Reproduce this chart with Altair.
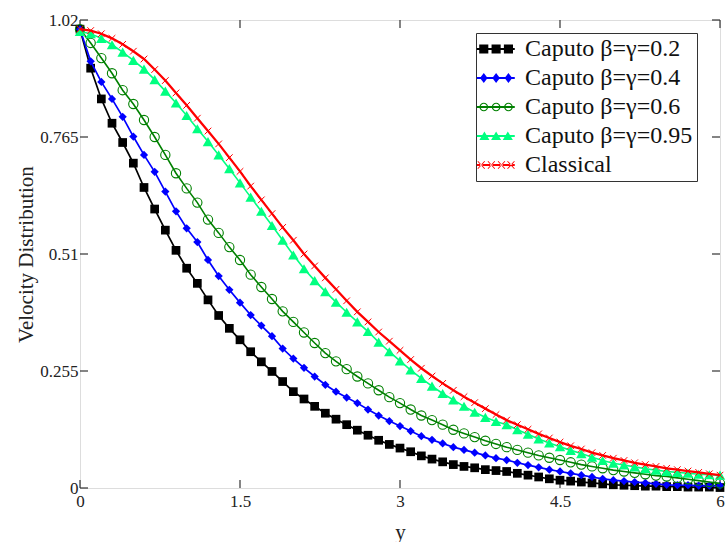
import math
import altair as alt
import pandas as pd

# ---------------- data ----------------
x_vals = [0.0, 0.1, 0.2, 0.3, 0.4, 0.5, 0.6, 0.7, 0.8, 0.9,
          1.0, 1.1, 1.2, 1.3, 1.4, 1.5, 1.6, 1.7, 1.8, 1.9,
          2.0, 2.1, 2.2, 2.3, 2.4, 2.5, 2.6, 2.7, 2.8, 2.9,
          3.0, 3.1, 3.2, 3.3, 3.4, 3.5, 3.6, 3.7, 3.8, 3.9,
          4.0, 4.1, 4.2, 4.3, 4.4, 4.5, 4.6, 4.7, 4.8, 4.9,
          5.0, 5.1, 5.2, 5.3, 5.4, 5.5, 5.6, 5.7, 5.8, 5.9, 6.0]

caputo_02 = [1.000, 0.915, 0.848, 0.795, 0.753, 0.708, 0.655, 0.608, 0.562, 0.518,
             0.479, 0.446, 0.410, 0.376, 0.348, 0.323, 0.297, 0.275, 0.254, 0.232,
             0.210, 0.194, 0.178, 0.163, 0.150, 0.138, 0.126, 0.115, 0.104, 0.095,
             0.087, 0.079, 0.070, 0.063, 0.057, 0.051, 0.047, 0.044, 0.040, 0.038,
             0.036, 0.032, 0.028, 0.024, 0.020, 0.017, 0.015, 0.013, 0.011, 0.009,
             0.007, 0.006, 0.005, 0.004, 0.004, 0.003, 0.003, 0.002, 0.002, 0.002, 0.001]

caputo_04 = [1.000, 0.930, 0.885, 0.848, 0.809, 0.766, 0.726, 0.689, 0.646, 0.603,
             0.566, 0.536, 0.497, 0.462, 0.432, 0.404, 0.377, 0.354, 0.331, 0.304,
             0.282, 0.262, 0.243, 0.225, 0.210, 0.197, 0.185, 0.171, 0.158, 0.146,
             0.135, 0.124, 0.113, 0.105, 0.097, 0.089, 0.083, 0.077, 0.071, 0.065,
             0.061, 0.055, 0.050, 0.045, 0.040, 0.036, 0.032, 0.028, 0.024, 0.020,
             0.017, 0.015, 0.013, 0.011, 0.009, 0.007, 0.006, 0.006, 0.005, 0.005, 0.005]

caputo_06 = [1.000, 0.970, 0.937, 0.904, 0.867, 0.837, 0.802, 0.765, 0.726, 0.686,
             0.653, 0.622, 0.585, 0.556, 0.525, 0.497, 0.465, 0.438, 0.412, 0.385,
             0.362, 0.339, 0.316, 0.294, 0.276, 0.259, 0.243, 0.228, 0.213, 0.198,
             0.185, 0.171, 0.158, 0.148, 0.138, 0.127, 0.119, 0.111, 0.103, 0.096,
             0.089, 0.083, 0.077, 0.071, 0.066, 0.061, 0.056, 0.051, 0.047, 0.043,
             0.039, 0.036, 0.033, 0.030, 0.027, 0.025, 0.022, 0.019, 0.016, 0.013, 0.010]

caputo_095 = [0.995, 0.990, 0.980, 0.966, 0.950, 0.932, 0.913, 0.890, 0.865, 0.839,
              0.812, 0.783, 0.755, 0.726, 0.696, 0.665, 0.634, 0.603, 0.572, 0.540,
              0.508, 0.478, 0.452, 0.428, 0.405, 0.383, 0.362, 0.341, 0.318, 0.297,
              0.277, 0.257, 0.239, 0.222, 0.206, 0.192, 0.178, 0.165, 0.154, 0.145,
              0.138, 0.127, 0.117, 0.107, 0.098, 0.090, 0.082, 0.075, 0.067, 0.060,
              0.054, 0.050, 0.046, 0.042, 0.039, 0.036, 0.034, 0.032, 0.030, 0.029, 0.028]

classical = [1.000, 0.997, 0.990, 0.980, 0.967, 0.952, 0.935, 0.912, 0.888, 0.861,
             0.834, 0.806, 0.778, 0.750, 0.720, 0.690, 0.658, 0.628, 0.598, 0.568,
             0.540, 0.510, 0.484, 0.458, 0.433, 0.408, 0.384, 0.362, 0.340, 0.320,
             0.300, 0.280, 0.261, 0.244, 0.228, 0.213, 0.199, 0.186, 0.173, 0.160,
             0.148, 0.138, 0.128, 0.118, 0.109, 0.100, 0.092, 0.085, 0.077, 0.071,
             0.065, 0.060, 0.055, 0.051, 0.047, 0.043, 0.040, 0.037, 0.034, 0.031, 0.028]

series_names = ["Caputo β=γ=0.2", "Caputo β=γ=0.4", "Caputo β=γ=0.6",
                "Caputo β=γ=0.95", "Classical"]
series_values = [caputo_02, caputo_04, caputo_06, caputo_095, classical]

x_ticks = [0, 1.5, 3, 4.5, 6]
y_ticks = [0, 0.255, 0.51, 0.765, 1.02]

# ---------------- styles ----------------
colors = ["#000000", "#0000FF", "#008000", "#00FF80", "#FF0000"]
marker_cfg = [
    dict(shape="square", filled=True, size=76),
    dict(shape="diamond", filled=True, size=68),
    dict(shape="circle", filled=False, size=86, strokeWidth=1.1),
    dict(shape="triangle-up", filled=True, size=110),
    dict(shape="M-1,-1L1,1M-1,1L1,-1", filled=False, size=44, strokeWidth=1),
]
line_w = [1.7, 1.7, 1.6, 1.6, 2.3]
FONT = "Liberation Serif"
W, H = 640, 468

rows = []
for name, vals in zip(series_names, series_values):
    for xv, yv in zip(x_vals, vals):
        rows.append({"x": xv, "v": yv, "series": name})
df = pd.DataFrame(rows)


# ---------------- legend symbol paths (line + markers) ----------------
def rect(x0, y0, x1, y1):
    return f"M{x0:.3f},{y0:.3f}H{x1:.3f}V{y1:.3f}H{x0:.3f}Z"


def poly(pts, reverse=False):
    if reverse:
        pts = pts[::-1]
    return "M" + "L".join(f"{px:.3f},{py:.3f}" for px, py in pts) + "Z"


def circle_pts(cx, r, n=16):
    return [(cx + r * math.cos(2 * math.pi * k / n), r * math.sin(2 * math.pi * k / n)) for k in range(n)]


def bar(x0, y0, x1, y1, t):
    dx, dy = x1 - x0, y1 - y0
    L = math.hypot(dx, dy)
    nx, ny = -dy / L * t, dx / L * t
    return poly([(x0 + nx, y0 + ny), (x1 + nx, y1 + ny), (x1 - nx, y1 - ny), (x0 - nx, y0 - ny)])


S = -1.4  # horizontal shift of the legend symbol
line_part = rect(-1 + S, -0.16, 5 + S, 0.16)
cxs = [0.1 + S, 2.05 + S, 4.0 + S]
p_square = line_part + "".join(rect(c - 0.72, -0.72, c + 0.72, 0.72) for c in cxs)
p_diamond = line_part + "".join(poly([(c, -0.78), (c + 0.6, 0), (c, 0.78), (c - 0.6, 0)]) for c in cxs)
p_ring = line_part + "".join(poly(circle_pts(c, 0.68)) + poly(circle_pts(c, 0.5), reverse=True) for c in cxs)
p_tri = line_part + "".join(poly([(c, -0.72), (c + 0.8, 0.62), (c - 0.8, 0.62)]) for c in [0.2 + S, 2.05 + S, 3.9 + S])
p_x = line_part + "".join(bar(c - 0.55, -0.6, c + 0.55, 0.6, 0.07) + bar(c - 0.55, 0.6, c + 0.55, -0.6, 0.07)
                          for c in [-0.3 + S, 1.3 + S, 2.9 + S, 4.4 + S])
legend_paths = [p_square, p_diamond, p_ring, p_tri, p_x]

# ---------------- encodings ----------------
x_scale = alt.Scale(domain=[0, 6], nice=False, zero=False)
y_scale = alt.Scale(domain=[0, 1.02], nice=False, zero=False)

x_axis = alt.Axis(values=x_ticks, labelExpr="'' + datum.value", ticks=False, domain=False, grid=False,
                  labelFont=FONT, labelFontSize=17, labelColor="#222222", labelPadding=5,
                  labelFlush=False, labelBound=False,
                  titleFont=FONT, titleFontSize=21, titleFontWeight="normal",
                  titleColor="#222222", titlePadding=12)
y_axis = alt.Axis(values=y_ticks, labelExpr="'' + datum.value", ticks=False, domain=False, grid=False,
                  labelFont=FONT, labelFontSize=17, labelColor="#222222", labelPadding=2,
                  labelFlush=False, labelBound=False,
                  titleFont=FONT, titleFontSize=21, titleFontWeight="normal",
                  titleColor="#222222", titlePadding=3)

X = alt.X("x:Q", scale=x_scale, axis=x_axis, title="y")
Y = alt.Y("v:Q", scale=y_scale, axis=y_axis, title="Velocity Distribution")

layers = []
for i, name in enumerate(series_names):
    sub = alt.Chart(df).transform_filter(alt.datum.series == name)
    layers.append(sub.mark_line(color=colors[i], strokeWidth=line_w[i]).encode(x=X, y=Y))
    cfg = dict(marker_cfg[i])
    layers.append(sub.mark_point(color=colors[i], opacity=1, **cfg).encode(x=X, y=Y))

# legend-only layer (no rows pass the filter; the scale domains give the entries)
legend_def = alt.Legend(title=None, orient="none", legendX=396, legendY=13,
                        labelFont=FONT, labelFontSize=24, labelColor="#111111",
                        labelOffset=21, symbolSize=160, symbolStrokeWidth=0,
                        rowPadding=5, padding=4, strokeColor="#333333",
                        fillColor="white", labelLimit=400)
legend_layer = alt.Chart(df).transform_filter("datum.x < -1").mark_point(
    filled=True, opacity=1).encode(
    x=X, y=Y,
    fill=alt.Fill("series:N", scale=alt.Scale(domain=series_names, range=colors), legend=legend_def),
    shape=alt.Shape("series:N", scale=alt.Scale(domain=series_names, range=legend_paths), legend=legend_def),
)

# inward ticks on all four sides
ydf = pd.DataFrame({"t": y_ticks})
xdf = pd.DataFrame({"t": x_ticks})
tick_col = "#333333"
left_ticks = alt.Chart(ydf).mark_rule(color=tick_col, strokeWidth=1.2).encode(
    y=alt.Y("t:Q", scale=y_scale), x=alt.value(0), x2=alt.value(8))
right_ticks = alt.Chart(ydf).mark_rule(color=tick_col, strokeWidth=1.2).encode(
    y=alt.Y("t:Q", scale=y_scale), x=alt.value(W - 8), x2=alt.value(W))
bottom_ticks = alt.Chart(xdf).mark_rule(color=tick_col, strokeWidth=1.2).encode(
    x=alt.X("t:Q", scale=x_scale), y=alt.value(H - 8), y2=alt.value(H))
top_ticks = alt.Chart(xdf).mark_rule(color=tick_col, strokeWidth=1.2).encode(
    x=alt.X("t:Q", scale=x_scale), y=alt.value(0), y2=alt.value(8))

chart = alt.layer(
    left_ticks, right_ticks, bottom_ticks, top_ticks, *layers, legend_layer
).properties(
    width=W, height=H,
    autosize=alt.AutoSizeParams(type="none"),
    padding={"left": 80, "top": 20, "right": 6, "bottom": 54},
).configure_view(
    stroke="#333333", strokeWidth=1.6
).configure(background="white")

chart.save("out.html", embed_options={"renderer": "svg", "actions": False})
